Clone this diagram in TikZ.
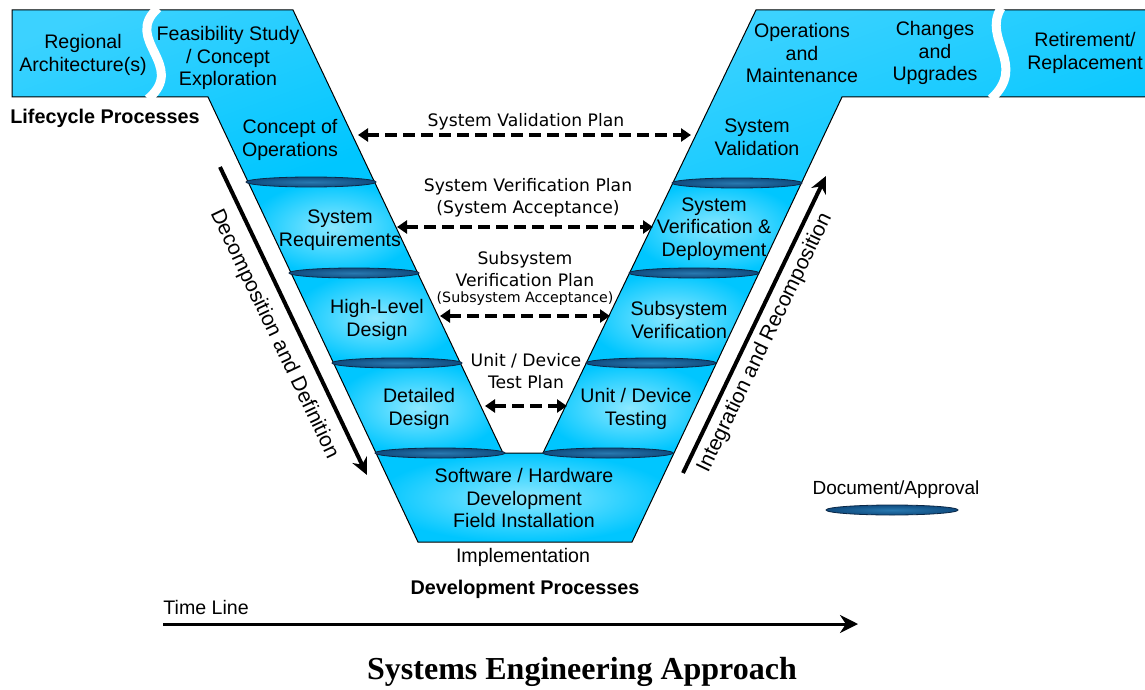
\documentclass[tikz,border=0pt]{standalone}
\usepackage{fontspec}
\setmainfont{Liberation Sans}
\newfontfamily\planfont{DejaVu Sans}
\newfontfamily\titlefont{Liberation Serif}
\usetikzlibrary{arrows.meta,calc}

\definecolor{vcyan}{RGB}{0,198,255}
\definecolor{vmid}{RGB}{60,210,255}
\definecolor{vlight}{RGB}{140,232,255}
\definecolor{docblue}{RGB}{40,120,175}
\definecolor{docdark}{RGB}{16,76,128}
\definecolor{docedge}{RGB}{12,40,70}

\tikzset{
  phase/.style={align=center, inner sep=0pt, font=\fontsize{9.8}{11.3}\selectfont},
  plan/.style={align=center, inner sep=0pt, font=\planfont\fontsize{8.6}{11}\selectfont},
  heading/.style={inner sep=0pt, font=\bfseries\fontsize{9.9}{12}\selectfont},
  rotlabel/.style={inner sep=0pt, font=\fontsize{10.5}{12}\selectfont},
  planarrow/.style={line width=2.1pt, dash pattern=on 6pt off 3pt,
    {Triangle[length=5pt,width=6.5pt]}-{Triangle[length=5pt,width=6.5pt]}},
  bigarrow/.style={line width=2pt, -{Stealth[length=8.5pt,width=8pt]}},
  band/.style={inner color=vlight, outer color=vcyan},
  topblock/.style={left color=vmid, right color=vcyan, shading angle=20},
  doc/.style={inner color=docblue, outer color=docdark, draw=docedge, line width=0.4pt},
  sgap/.style={white, line width=4.5pt},
}

\begin{document}
\begin{tikzpicture}[x=0.5pt, y=-0.5pt]
    \useasboundingbox (0,0) rectangle (1145,690);

    \shade[topblock] (12,10) -- (293,10) -- (374.5,182) -- (248,182) -- (208,97) -- (12,97) -- cycle;
    \shade[band] (248,182) -- (374.5,182) -- (417.6,273) -- (291.1,273) -- cycle;
    \shade[band] (291.1,273) -- (417.6,273) -- (460.3,363) -- (333.5,363) -- cycle;
    \shade[band] (333.5,363) -- (460.3,363) -- (503,453) -- (376,453) -- cycle;
    \shade[band] (376,453) -- (674,453) -- (632,542) -- (418,542) -- cycle;

    \shade[topblock] (756,10) -- (1146,10) -- (1146,97) -- (842,97) -- (801.4,183) -- (672.8,183) -- cycle;
    \shade[band] (672.8,183) -- (801.4,183) -- (758.9,273) -- (629.5,273) -- cycle;
    \shade[band] (629.5,273) -- (758.9,273) -- (716.5,363) -- (586.3,363) -- cycle;
    \shade[band] (586.3,363) -- (716.5,363) -- (674,453) -- (543,453) -- cycle;

    \draw[line width=0.5pt] (1146,10) -- (756,10) -- (543,453) -- (503,453) -- (293,10)
        -- (12,10) -- (12,97) -- (208,97) -- (418,542) -- (632,542) -- (842,97) -- (1146,97);

    \draw[sgap] (158,8) .. controls (122,40) and (188,65) .. (148,99);
    \draw[sgap] (1001,8) .. controls (982,40) and (1028,65) .. (991,99);

    \foreach \cx/\cy in {311/182, 354/273, 397/363, 440/453, 737/183, 694/273, 651/363, 608/453}
        \shadedraw[doc] (\cx,\cy) ellipse [x radius=65, y radius=5];

    \node[phase] (regional) at (83,55) {Regional\\Architecture(s)};
    \node[phase] (feasibility) at (228,58) {Feasibility Study\\/ Concept\\Exploration};
    \node[phase] (conops) at (290,140) {Concept of\\Operations};
    \node[phase] (sysreq) at (340,230) {System\\Requirements};
    \node[phase] (hld) at (377,320) {High-Level\\Design};
    \node[phase] (dd) at (419,409) {Detailed\\Design};
    \node[phase] (swhw) at (524,498) {Software / Hardware\\Development\\Field Installation};
    \node[phase] (impl) at (523,557) {Implementation};

    \node[phase] (sysval) at (757,137) {System\\Validation};
    \node[phase] (sysver) at (714,229) {System\\Verification \&\\Deployment};
    \node[phase] (subver) at (679,320) {Subsystem\\Verification};
    \node[phase] (unittest) at (636,409) {Unit / Device\\Testing};
    \node[phase] (ops) at (802,53) {Operations\\and\\Maintenance};
    \node[phase] (changes) at (935,53) {Changes\\and\\Upgrades};
    \node[phase] (retire) at (1085,53) {Retirement/\\Replacement};

    \node[heading] (lifecycle) at (105,118) {Lifecycle Processes};
    \node[heading] (devproc) at (525,589) {Development Processes};

    \node[plan] (valplan) at (526,122) {System Validation Plan};
    \node[plan] (verplan) at (528,198) {System Verification Plan\\(System Acceptance)};
    \node[plan] (subplan) at (525,269) {Subsystem\\Verification Plan};
    \node[plan, font=\planfont\fontsize{7.1}{8}\selectfont] (subaccept) at (525,299) {(Subsystem Acceptance)};
    \node[plan] (unitplan) at (526,371) {Unit / Device\\Test Plan};

    \coordinate (valL) at (358,135);
    \coordinate (valR) at (691,135);
    \coordinate (verL) at (397,227);
    \coordinate (verR) at (653,227);
    \coordinate (subL) at (440,316);
    \coordinate (subR) at (610,316);
    \coordinate (unitL) at (485,406);
    \coordinate (unitR) at (567,406);
    \draw[planarrow] (valL) -- (valR);
    \draw[planarrow] (verL) -- (verR);
    \draw[planarrow] (subL) -- (subR);
    \draw[planarrow] (unitL) -- (unitR);

    \coordinate (decTop) at (220,167);
    \coordinate (decBot) at (367,475);
    \draw[bigarrow] (decTop) -- (decBot);
    \node[rotlabel, rotate=-64.5] (decomp) at (274,334) {Decomposition and Definition};

    \coordinate (intBot) at (683,473);
    \coordinate (intTop) at (826,176);
    \draw[bigarrow] (intBot) -- (intTop);
    \node[rotlabel, rotate=64.3] (integ) at (765,343) {Integration and Recomposition};

    \node[phase, font=\fontsize{9.5}{11}\selectfont] (doclabel) at (896,490) {Document/Approval};
    \shadedraw[doc] (892,510) ellipse [x radius=66, y radius=5];

    \node[phase, anchor=west] (timeline) at (163,607) {Time Line};
    \coordinate (tStart) at (163,624);
    \coordinate (tEnd) at (858,624);
    \draw[line width=1.5pt, -{Stealth[length=9pt,width=9pt]}] (tStart) -- (tEnd);

    \node[font=\titlefont\bfseries\fontsize{16}{19}\selectfont] (title) at (582,672) {Systems Engineering Approach};
\end{tikzpicture}
\end{document}
